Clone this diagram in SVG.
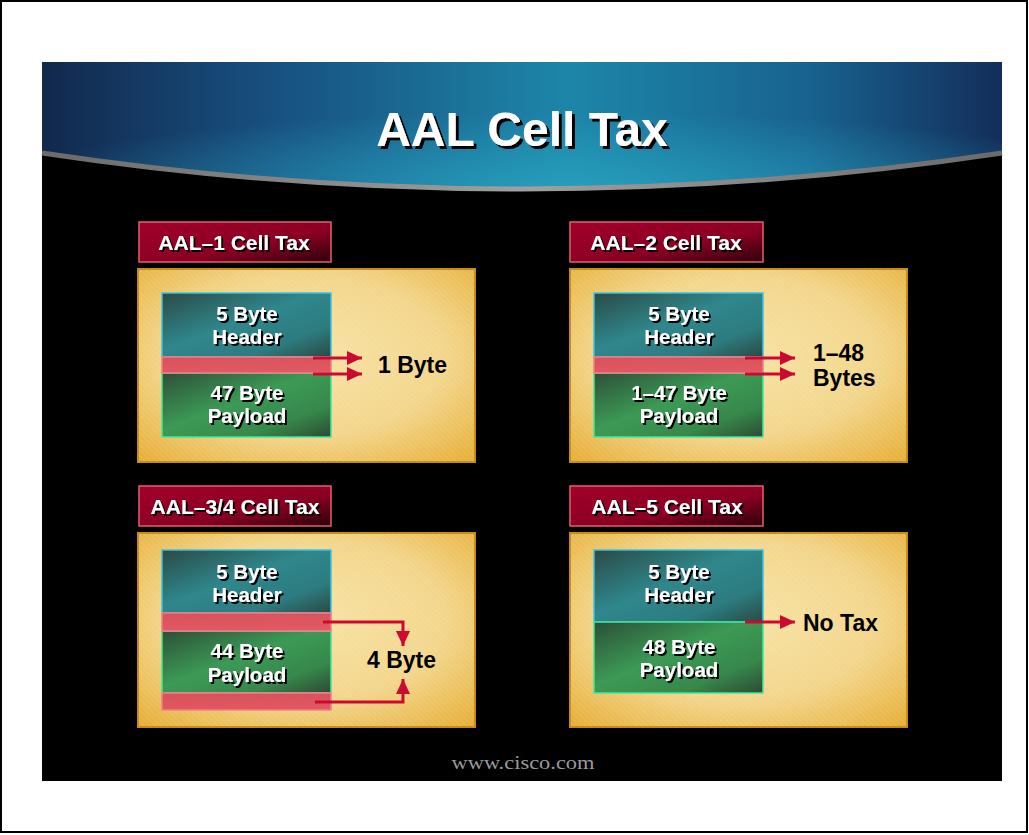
<svg xmlns="http://www.w3.org/2000/svg" width="1029" height="835" viewBox="0 0 1029 835">
<defs>
<linearGradient id="gBand" x1="0" y1="0" x2="1" y2="0">
<stop offset="0" stop-color="#12284d"/>
<stop offset="0.25" stop-color="#185282"/>
<stop offset="0.55" stop-color="#1d86a8"/>
<stop offset="0.8" stop-color="#18628f"/>
<stop offset="1" stop-color="#132e5a"/>
</linearGradient>
<radialGradient id="gBandGlow" cx="0.55" cy="1" r="0.6">
<stop offset="0" stop-color="#2aa8c4" stop-opacity="0.7"/>
<stop offset="1" stop-color="#2aa8c4" stop-opacity="0"/>
</radialGradient>
<linearGradient id="gArc" x1="0" y1="0" x2="1" y2="0">
<stop offset="0" stop-color="#6a6a6a"/>
<stop offset="0.5" stop-color="#a0a0a0"/>
<stop offset="1" stop-color="#6a6a6a"/>
</linearGradient>
<radialGradient id="gGold" cx="0.5" cy="0.45" r="0.75">
<stop offset="0" stop-color="#f7e3a6"/>
<stop offset="0.55" stop-color="#f3d68c"/>
<stop offset="1" stop-color="#e6ad34"/>
</radialGradient>
<linearGradient id="gLabel" x1="0" y1="0" x2="1" y2="1">
<stop offset="0" stop-color="#a2002a"/>
<stop offset="0.6" stop-color="#8a0022"/>
<stop offset="1" stop-color="#2e000c"/>
</linearGradient>
<linearGradient id="gHead" x1="0" y1="0" x2="1" y2="1">
<stop offset="0" stop-color="#2b4a46"/>
<stop offset="0.45" stop-color="#2f878c"/>
<stop offset="0.75" stop-color="#2c7c80"/>
<stop offset="1" stop-color="#2a4a44"/>
</linearGradient>
<linearGradient id="gPay" x1="0" y1="0" x2="1" y2="1">
<stop offset="0" stop-color="#2d4f38"/>
<stop offset="0.45" stop-color="#3c9a55"/>
<stop offset="0.75" stop-color="#36884b"/>
<stop offset="1" stop-color="#2c4a34"/>
</linearGradient>
<linearGradient id="gTax" x1="0" y1="0" x2="0" y2="1">
<stop offset="0" stop-color="#d84a58"/>
<stop offset="1" stop-color="#e05260"/>
</linearGradient>
<pattern id="hatch" width="4" height="4" patternUnits="userSpaceOnUse" patternTransform="rotate(-45)">
<rect width="4" height="4" fill="none"/>
<line x1="0" y1="0" x2="0" y2="4" stroke="#ffffff" stroke-width="1" stroke-opacity="0.18"/>
</pattern>
<filter id="shadow" x="-10%" y="-10%" width="130%" height="140%">
<feDropShadow dx="2" dy="2" stdDeviation="0.3" flood-color="#000" flood-opacity="1"/>
</filter>
<filter id="shadowT" x="-10%" y="-10%" width="130%" height="140%">
<feDropShadow dx="3" dy="3" stdDeviation="0.3" flood-color="#000" flood-opacity="1"/>
</filter>
<marker id="ah" markerUnits="userSpaceOnUse" markerWidth="16" markerHeight="14" refX="15" refY="7" orient="auto">
<path d="M0,0 L15,7 L0,14 Z" fill="#cc0a30"/>
</marker>
<style>
.gold{fill:url(#gGold);stroke:#c48d12;stroke-width:2}
.goldtex{fill:url(#hatch)}
.lab{fill:url(#gLabel);stroke:#e0606e;stroke-width:1.5}
.labt{font-family:"Liberation Sans",Arial,sans-serif;font-weight:bold;font-size:21px;fill:#fff;text-anchor:middle;filter:url(#shadow)}
.head{fill:url(#gHead);stroke:#38c4e6;stroke-width:1.5}
.pay{fill:url(#gPay);stroke:#3fe8a0;stroke-width:1.5}
.tax{fill:url(#gTax);stroke:#f07f8c;stroke-width:1.5;fill-opacity:0.95}
.cellt{font-family:"Liberation Sans",Arial,sans-serif;font-weight:bold;font-size:20.5px;fill:#fff;text-anchor:middle;filter:url(#shadow)}
.outt{font-family:"Liberation Sans",Arial,sans-serif;font-weight:bold;font-size:23px;fill:#000}
.arr{fill:none;stroke:#cc0a30;stroke-width:3;marker-end:url(#ah)}
</style>
</defs>
<rect x="0" y="0" width="1029" height="835" fill="#fff"/>
<rect x="1" y="1" width="1026" height="831" fill="none" stroke="#000" stroke-width="2"/>
<rect x="42" y="62" width="960" height="719" fill="#000"/>
<g id="titlebar">
<path d="M42,62 H1002 V152 Q522,224 42,152 Z" fill="url(#gBand)"/>
<path d="M42,62 H1002 V152 Q522,224 42,152 Z" fill="url(#gBandGlow)"/>
<path d="M42,153 Q522,225 1002,153" fill="none" stroke="url(#gArc)" stroke-width="5"/>
<text x="522" y="146" font-family="'Liberation Sans',Arial,sans-serif" font-weight="bold" font-size="48" fill="#fff" text-anchor="middle" filter="url(#shadowT)">AAL Cell Tax</text>
</g>
<g id="panel-aal1">
<rect x="139" y="222" width="192" height="40" class="lab"/>
<text x="234" y="250" class="labt">AAL–1 Cell Tax</text>
<rect x="138" y="269" width="337" height="193" class="gold"/>
<rect x="138" y="269" width="337" height="193" class="goldtex"/>
<rect x="162" y="293" width="169" height="64" class="head"/>
<rect x="162" y="373" width="169" height="64" class="pay"/>
<rect x="162" y="357" width="169" height="16" class="tax"/>
<text x="247" y="321" class="cellt">5 Byte</text>
<text x="247" y="344" class="cellt">Header</text>
<text x="247" y="400" class="cellt">47 Byte</text>
<text x="247" y="423" class="cellt">Payload</text>
<text x="378" y="373" class="outt">1 Byte</text>
</g>
<g id="panel-aal2">
<rect x="570" y="222" width="193" height="40" class="lab"/>
<text x="666" y="250" class="labt">AAL–2 Cell Tax</text>
<rect x="570" y="269" width="337" height="193" class="gold"/>
<rect x="570" y="269" width="337" height="193" class="goldtex"/>
<rect x="594" y="293" width="169" height="64" class="head"/>
<rect x="594" y="373" width="169" height="64" class="pay"/>
<rect x="594" y="357" width="169" height="16" class="tax"/>
<text x="679" y="321" class="cellt">5 Byte</text>
<text x="679" y="344" class="cellt">Header</text>
<text x="679" y="400" class="cellt">1–47 Byte</text>
<text x="679" y="423" class="cellt">Payload</text>
<text x="813" y="361" class="outt">1–48</text>
<text x="813" y="386" class="outt">Bytes</text>
</g>
<g id="panel-aal34">
<rect x="139" y="486" width="192" height="40" class="lab"/>
<text x="235" y="514" class="labt">AAL–3/4 Cell Tax</text>
<rect x="138" y="533" width="337" height="194" class="gold"/>
<rect x="138" y="533" width="337" height="194" class="goldtex"/>
<rect x="162" y="550" width="169" height="63" class="head"/>
<rect x="162" y="631" width="169" height="62" class="pay"/>
<rect x="162" y="613" width="169" height="18" class="tax"/>
<rect x="162" y="693" width="169" height="17" class="tax"/>
<text x="247" y="579" class="cellt">5 Byte</text>
<text x="247" y="602" class="cellt">Header</text>
<text x="247" y="658" class="cellt">44 Byte</text>
<text x="247" y="682" class="cellt">Payload</text>
<text x="367" y="668" class="outt">4 Byte</text>
</g>
<g id="panel-aal5">
<rect x="570" y="486" width="193" height="40" class="lab"/>
<text x="667" y="514" class="labt">AAL–5 Cell Tax</text>
<rect x="570" y="533" width="337" height="194" class="gold"/>
<rect x="570" y="533" width="337" height="194" class="goldtex"/>
<rect x="594" y="550" width="169" height="72" class="head"/>
<rect x="594" y="622" width="169" height="71" class="pay"/>
<text x="679" y="579" class="cellt">5 Byte</text>
<text x="679" y="602" class="cellt">Header</text>
<text x="679" y="654" class="cellt">48 Byte</text>
<text x="679" y="677" class="cellt">Payload</text>
<text x="803" y="631" class="outt">No Tax</text>
</g>
<g id="connectors">
<path class="arr" d="M313,358 H362"/>
<path class="arr" d="M313,374 H362"/>
<path class="arr" d="M745,358 H795"/>
<path class="arr" d="M745,374 H795"/>
<path class="arr" d="M323,622 H403 V646"/>
<path class="arr" d="M315,702 H403 V679"/>
<path class="arr" d="M745,622 H795"/>
</g>
<text x="523" y="769" font-family="'Liberation Serif','Times New Roman',serif" font-size="19" fill="#9a9a9a" text-anchor="middle" textLength="143" lengthAdjust="spacingAndGlyphs">www.cisco.com</text>
</svg>
